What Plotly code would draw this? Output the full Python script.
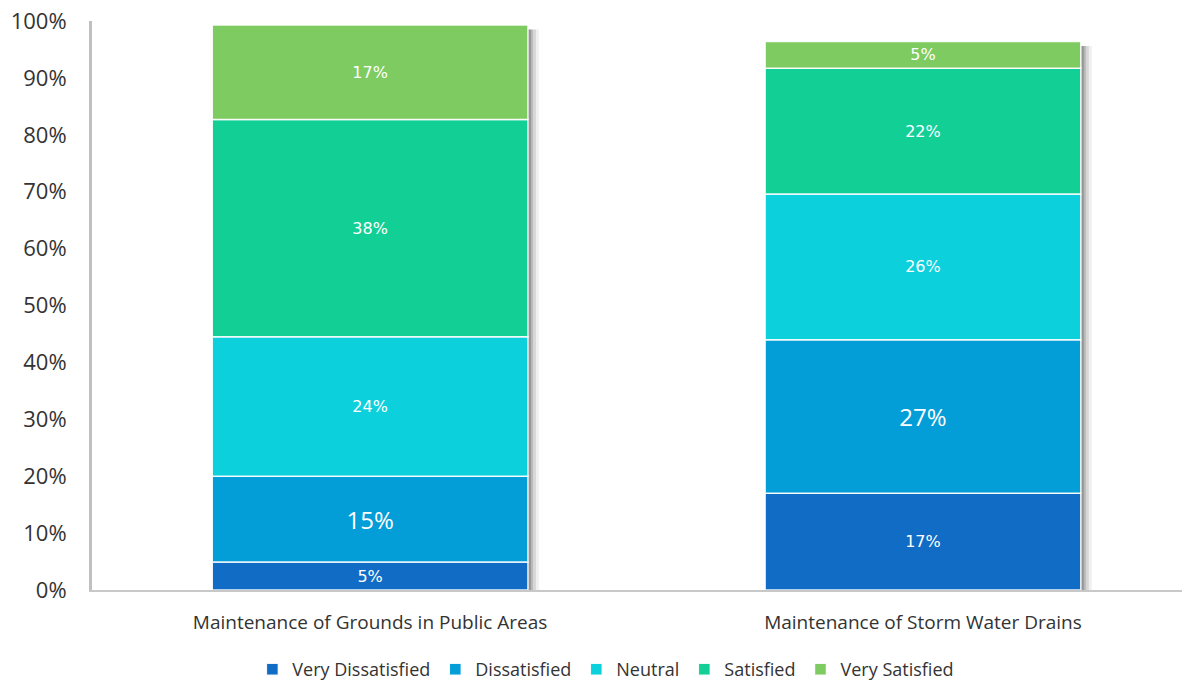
import numpy as np
import plotly.graph_objects as go

categories = ["Maintenance of Grounds in Public Areas", "Maintenance of Storm Water Drains"]
series_names = ["Very Dissatisfied", "Dissatisfied", "Neutral", "Satisfied", "Very Satisfied"]
very_dissatisfied = [4.9, 17.0]
dissatisfied = [15.1, 27.0]
neutral = [24.5, 25.6]
satisfied = [38.2, 22.1]
very_satisfied = [16.6, 4.7]
y_ticks = [0, 10, 20, 30, 40, 50, 60, 70, 80, 90, 100]

colors = ["#106cc4", "#039dd8", "#0cd0dc", "#12cf96", "#7ecb62"]
label_fonts = [("DejaVu Sans", 16), ("Open Sans", 24), ("DejaVu Sans", 16),
               ("DejaVu Sans", 16), ("DejaVu Sans", 16)]

series = [very_dissatisfied, dissatisfied, neutral, satisfied, very_satisfied]
vals = np.array(series)
bases = np.vstack([np.zeros(len(categories)), np.cumsum(vals, axis=0)[:-1]])
totals = vals.sum(axis=0)

x = np.arange(len(categories))
bar_w = 0.571
px = 1 / 553.0

fig = go.Figure()
# soft shadow on the right side of each bar
for off, col in [(11 * px, "rgba(0,0,0,0.06)"), (8 * px, "rgba(0,0,0,0.10)"),
                 (5 * px, "rgba(0,0,0,0.14)"), (3 * px, "rgba(0,0,0,0.18)")]:
    fig.add_trace(go.Bar(x=x, y=totals - 0.8, base=0, width=bar_w, offset=-bar_w / 2 + off,
                         marker=dict(color=col, line=dict(width=0)), showlegend=False, hoverinfo="skip"))

for name, v, b, c, (fam, s) in zip(series_names, vals, bases, colors, label_fonts):
    fig.add_trace(go.Bar(
        x=x, y=v, base=b, name=name, width=bar_w, offset=-bar_w / 2,
        marker=dict(color=c, line=dict(color="rgba(255,255,255,0.9)", width=1.5)),
        text=[f"{round(t)}%" for t in v], textposition="inside", insidetextanchor="middle",
        textangle=0, textfont=dict(color="white", size=s, family=fam),
    ))

fig.update_layout(
    barmode="overlay",
    width=1182, height=676,
    margin=dict(l=84, r=0, t=13, b=94, autoexpand=False),
    plot_bgcolor="white", paper_bgcolor="white",
    font=dict(family="Open Sans", color="#333333"),
    legend=dict(orientation="h", x=0.468, xanchor="center", y=-0.14, yanchor="middle",
                font=dict(size=18, color="#333333"), traceorder="normal",
                itemwidth=30),
    showlegend=True,
)
fig.update_xaxes(
    range=[-0.503, 1.483], tickvals=x, ticktext=categories, automargin=False,
    showgrid=False, zeroline=False, showline=True, linecolor="#c8c8c8", linewidth=2,
    ticks="outside", ticklen=14, tickcolor="rgba(0,0,0,0)",
    tickfont=dict(size=19, color="#333333"),
)
fig.update_yaxes(
    range=[0, 100], tickvals=y_ticks, ticktext=[f"{t}%" for t in y_ticks], automargin=False,
    showgrid=False, zeroline=False, showline=True, linecolor="#c0c0c0", linewidth=3,
    ticks="outside", ticklen=18, tickcolor="rgba(0,0,0,0)", ticklabeloverflow="allow",
    tickfont=dict(size=22, color="#333333"),
)
fig.write_html("out.html")
